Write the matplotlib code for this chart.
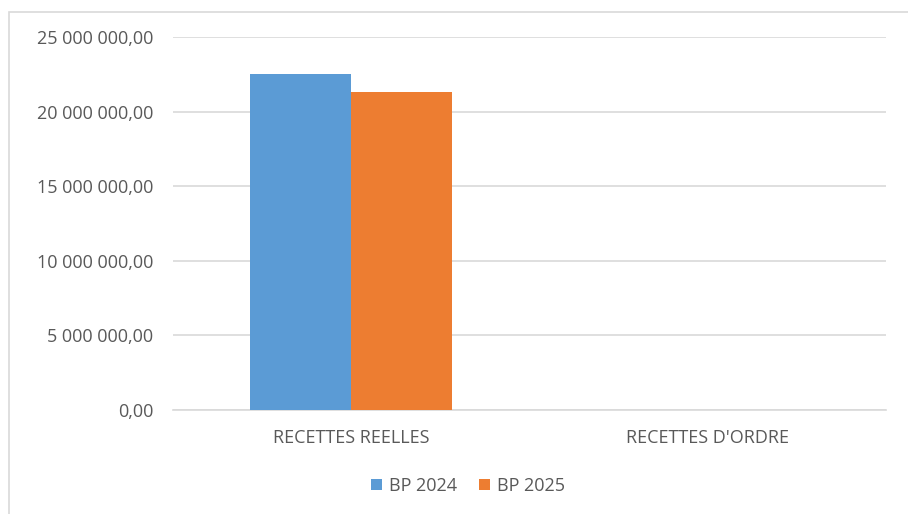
import matplotlib.pyplot as plt
import numpy as np
from matplotlib.ticker import FuncFormatter
from matplotlib.patches import Rectangle

# Données
categories = ['RECETTES REELLES', "RECETTES D'ORDRE"]
bp_2024 = [22500000, 0]
bp_2025 = [21290000, 0]
yticks = [0, 5000000, 10000000, 15000000, 20000000, 25000000]

plt.rcParams['font.family'] = ['Open Sans', 'DejaVu Sans']

fig = plt.figure(figsize=(9.08, 5.14), dpi=100)
ax = fig.add_axes([173 / 908, 1 - 410 / 514, 713 / 908, 373 / 514])

# cadre du graphique (coupé à droite et en bas)
fig.patches.append(Rectangle((9 / 908, -0.1), 1.2, 1 - 12 / 514 + 0.1,
                             transform=fig.transFigure, fill=False,
                             edgecolor='#d9d9d9', linewidth=1.2))

x = np.arange(len(categories))
w = 0.284
ax.bar(x - w / 2, bp_2024, w, color='#5b9bd5', label='BP 2024', zorder=3)
ax.bar(x + w / 2, bp_2025, w, color='#ed7d31', label='BP 2025', zorder=3)

ax.set_xlim(-0.5, 1.5)
ax.set_ylim(0, 25000000)
ax.set_yticks(yticks)


def fmt(v, pos):
    s = '{:,.2f}'.format(v).replace(',', ' ').replace('.', ',')
    return s


ax.yaxis.set_major_formatter(FuncFormatter(fmt))
ax.set_xticks(x)
ax.set_xticklabels(categories)
ax.grid(axis='y', color='#d9d9d9', linewidth=1.2, zorder=0)
for s in ['top', 'right', 'left']:
    ax.spines[s].set_visible(False)
ax.spines['bottom'].set_color('#d9d9d9')
ax.spines['bottom'].set_linewidth(1.2)
ax.tick_params(axis='both', length=0, colors='#595959', labelsize=13)
ax.tick_params(axis='y', pad=14)
ax.tick_params(axis='x', pad=14)

fig.legend(loc='center', bbox_to_anchor=(468 / 908, 1 - 486 / 514), ncol=2,
           frameon=False, fontsize=13, labelcolor='#595959',
           handlelength=0.6, handleheight=0.6, handletextpad=0.4,
           columnspacing=1.2)

fig.savefig('out.png', dpi=100)
